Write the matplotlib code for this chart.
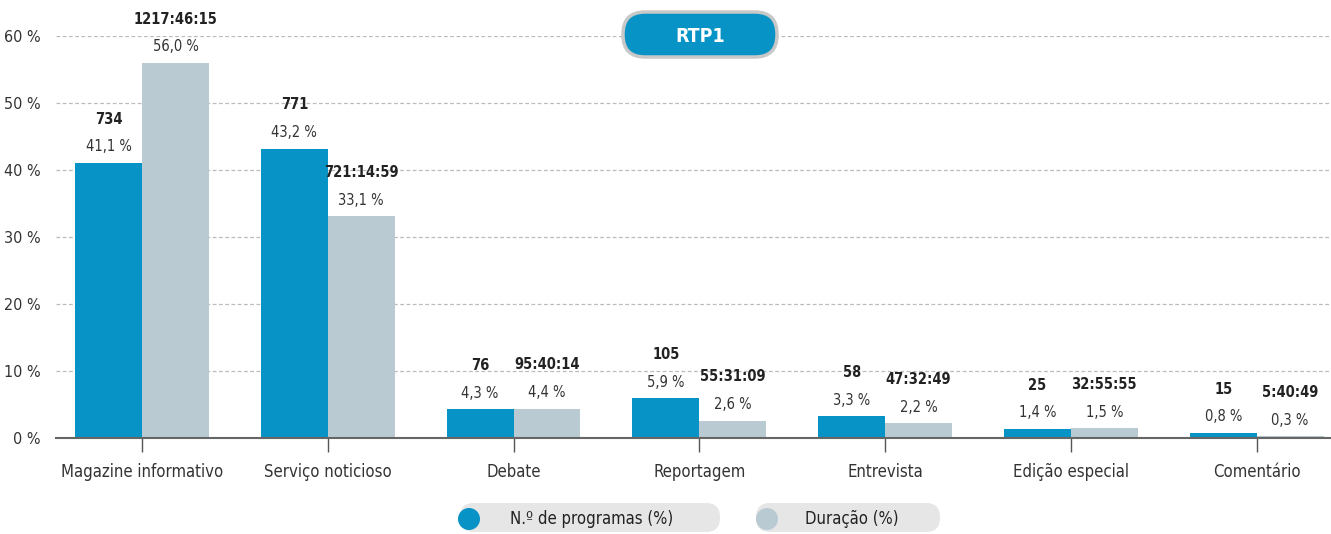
import numpy as np
import matplotlib.pyplot as plt
from matplotlib.patches import FancyBboxPatch, Circle

categories = ['Magazine informativo', 'Serviço noticioso', 'Debate', 'Reportagem',
              'Entrevista', 'Edição especial', 'Comentário']
prog_pct = [41.1, 43.2, 4.3, 5.9, 3.3, 1.4, 0.8]
prog_count = ['734', '771', '76', '105', '58', '25', '15']
dur_pct = [56.0, 33.1, 4.4, 2.6, 2.2, 1.5, 0.3]
dur_time = ['1217:46:15', '721:14:59', '95:40:14', '55:31:09', '47:32:49', '32:55:55', '5:40:49']
yticks = [0, 10, 20, 30, 40, 50, 60]

blue = '#0793c6'
grey = '#b9cad3'
txt = '#333333'

plt.rcParams['font.family'] = ['DejaVu Sans']
plt.rcParams['font.stretch'] = 'condensed'

W, H = 1331, 534
fig = plt.figure(figsize=(W / 100, H / 100), dpi=100)
ax = fig.add_axes([56 / W, 96 / H, 1 - 56 / W, (438 - 36) / H])

x = np.arange(len(categories))
bw = 0.36
ax.bar(x - bw / 2, prog_pct, bw, color=blue, zorder=3)
ax.bar(x + bw / 2, dur_pct, bw, color=grey, zorder=3)

def pct(v):
    return f'{v:.1f}'.replace('.', ',') + ' %'

for i in range(len(categories)):
    for xx, v, top in [(x[i] - bw / 2, prog_pct[i], prog_count[i]),
                       (x[i] + bw / 2, dur_pct[i], dur_time[i])]:
        ax.annotate(pct(v), (xx, v), xytext=(0, 6), textcoords='offset points',
                    ha='center', va='bottom', fontsize=10.5, color=txt, annotation_clip=False)
        ax.annotate(top, (xx, v), xytext=(0, 26), textcoords='offset points',
                    ha='center', va='bottom', fontsize=10.5, color='#222222',
                    fontweight='bold', annotation_clip=False)

ax.set_xlim(-0.463, 6.40)
ax.set_ylim(0, 60)
ax.set_yticks(yticks)
ax.set_yticklabels([f'{t} %' for t in yticks], fontsize=11.5, color=txt)
ax.set_xticks(x)
ax.set_xticklabels(categories, fontsize=12, color=txt)
ax.tick_params(axis='y', length=0, pad=11)
ax.tick_params(axis='x', length=10, width=1, color='#555555', pad=8)
ax.yaxis.grid(True, linestyle=(0, (3, 2)), color='#bbbbbb', linewidth=0.9, zorder=0)
for s in ['top', 'right', 'left']:
    ax.spines[s].set_visible(False)
ax.spines['bottom'].set_color('#666666')
ax.spines['bottom'].set_linewidth(1.5)
ax.spines['bottom'].set_zorder(4)

# overlay in pixel units for the badge and legend
ov = fig.add_axes([0, 0, 1, 1], zorder=10)
ov.set_xlim(0, W)
ov.set_ylim(H, 0)
ov.axis('off')
ov.patch.set_alpha(0)

ov.add_patch(FancyBboxPatch((623, 12), 154, 45, boxstyle='round,pad=0,rounding_size=22',
                            facecolor=blue, edgecolor='#c8c8c8', linewidth=2.5))
ov.text(700, 36, 'RTP1', ha='center', va='center', color='white', fontsize=14,
        fontweight='bold')

for x0, x1, cx, col, label, tx in [(460, 720, 469, blue, 'N.º de programas (%)', 592),
                                   (756, 940, 767, grey, 'Duração (%)', 852)]:
    ov.add_patch(FancyBboxPatch((x0, 503), x1 - x0, 29, boxstyle='round,pad=0,rounding_size=14',
                                facecolor='#e6e6e6', edgecolor='none'))
    ov.add_patch(Circle((cx, 519), 11, facecolor=col, edgecolor='none'))
    ov.text(tx, 519, label, ha='center', va='center', fontsize=12, color='#222222')

fig.savefig('out.png', dpi=100)
